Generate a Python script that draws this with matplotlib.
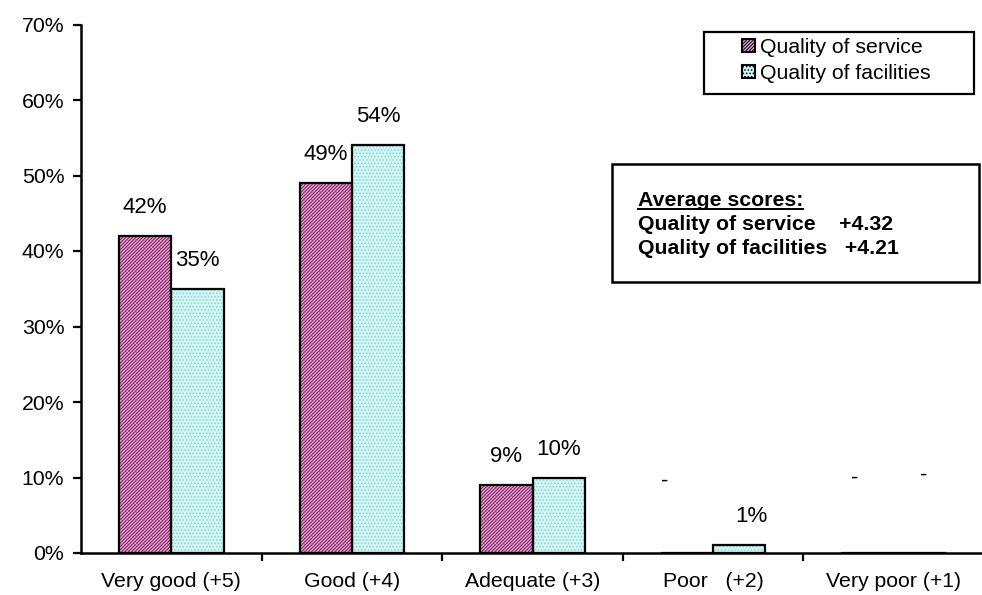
import matplotlib
matplotlib.use('Agg')
import matplotlib.pyplot as plt
import numpy as np
from matplotlib.patches import Rectangle, Patch
from matplotlib.lines import Line2D

plt.rcParams['font.family'] = ['Liberation Sans', 'DejaVu Sans']
plt.rcParams['hatch.linewidth'] = 0.7

categories = ['Very good (+5)', 'Good (+4)', 'Adequate (+3)', 'Poor   (+2)', 'Very poor (+1)']
service = [42, 49, 9, 0, 0]
facilities = [35, 54, 10, 1, 0]
series_names = ['Quality of service', 'Quality of facilities']
avg_service = '+4.32'
avg_facilities = '+4.21'

W, H = 982, 595
fig = plt.figure(figsize=(W / 100, H / 100), dpi=100)
ax = fig.add_axes([81 / W, (H - 553) / H, 903 / W, (553 - 24.5) / H])

x = np.arange(len(categories))
bw = 0.29
styles = [
    dict(face='#e3a2d0', hatch='//////////', hcol='#7a1d5a'),
    dict(face='#cff6f3', hatch='.....', hcol='#93d3cf'),
]

for vals, off, st in zip([service, facilities], [-bw / 2, bw / 2], styles):
    # fill + hatch layer, then a black outline on top
    ax.bar(x + off, vals, bw, color=st['face'], hatch=st['hatch'],
           edgecolor=st['hcol'], linewidth=0, zorder=2)
    ax.bar(x + off, vals, bw, fill=False, edgecolor='black', linewidth=1.6, zorder=3)

# value labels; zero values get a dash placed higher up
zero_offsets = {(0, 3): (-16, 52), (0, 4): (-9, 54), (1, 4): (3, 56)}
for si, (vals, off) in enumerate(zip([service, facilities], [-bw / 2, bw / 2])):
    for ci, v in enumerate(vals):
        if v == 0:
            dx, dy = zero_offsets.get((si, ci), (0, 54))
            ax.annotate('-', (x[ci] + off, 0), xytext=(dx, dy), textcoords='offset points',
                        ha='center', va='center', fontsize=16)
        else:
            dx = 9 if (si, ci) == (1, 3) else 0
            ax.annotate(f'{v}%', (x[ci] + off, v), xytext=(dx, 20.5), textcoords='offset points',
                        ha='center', va='center', fontsize=16)

ax.set_xlim(-0.5, len(categories) - 0.5)
ax.set_ylim(0, 70)
ax.set_yticks(np.arange(0, 71, 10))
ax.set_yticklabels([f'{v}%' for v in range(0, 71, 10)])
ax.set_xticks(x)
ax.set_xticklabels(categories)
ax.set_xticks(np.arange(0.5, len(categories) - 0.5, 1), minor=True)
ax.tick_params(axis='x', which='major', length=0, pad=14, labelsize=15.3)
ax.tick_params(axis='x', which='minor', length=6, width=1.6, direction='out')
ax.tick_params(axis='y', length=6, width=1.6, direction='out', pad=6, labelsize=15.3)

for s in ['top', 'right']:
    ax.spines[s].set_visible(False)
for s in ['left', 'bottom']:
    ax.spines[s].set_linewidth(1.8)
ax.spines['bottom'].set_zorder(4)

# legend inside its own frame
fig.patches.append(Rectangle((704 / W, (H - 94) / H), 270 / W, 62 / H, transform=fig.transFigure,
                             fill=False, edgecolor='black', linewidth=1.6))
handles = [Patch(facecolor=st['face'], hatch=st['hatch'], edgecolor='black', linewidth=1.5)
           for st in styles]
fig.legend(handles, series_names, loc='upper left', bbox_to_anchor=(742 / W, (H - 38) / H),
           frameon=False, fontsize=15.3, handlelength=0.6, handleheight=0.6,
           handletextpad=0.25, labelspacing=0.32, borderpad=0, borderaxespad=0)

# average scores box
fig.patches.append(Rectangle((612 / W, (H - 282) / H), 367 / W, 118 / H, transform=fig.transFigure,
                             fill=False, edgecolor='black', linewidth=1.8))
t1 = fig.text(638 / W, (H - 201) / H, 'Average scores:', fontsize=15.3, fontweight='bold', va='center')
fig.text(638 / W, (H - 225) / H, f'Quality of service    {avg_service}', fontsize=15.3,
         fontweight='bold', va='center')
fig.text(638 / W, (H - 249) / H, f'Quality of facilities   {avg_facilities}', fontsize=15.3,
         fontweight='bold', va='center')

fig.canvas.draw()
bb = t1.get_window_extent().transformed(fig.transFigure.inverted())
fig.lines.append(Line2D([bb.x0, bb.x1], [bb.y0 + 0.002, bb.y0 + 0.002], transform=fig.transFigure,
                        color='black', linewidth=1.4))

fig.savefig('out.png', dpi=100)
